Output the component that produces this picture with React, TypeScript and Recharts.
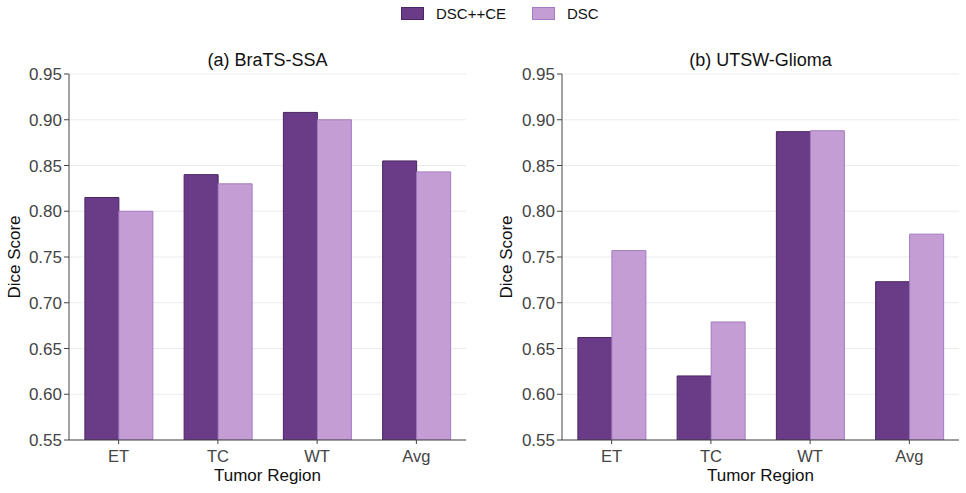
import React from "react";
import { BarChart, Bar, XAxis, YAxis, CartesianGrid } from "recharts";

// Tumor regions shown on the x axis
const regions = ["ET", "TC", "WT", "Avg"];

// (a) BraTS-SSA dice scores
const bratsCE = [0.815, 0.840, 0.908, 0.855];
const bratsDSC = [0.800, 0.830, 0.900, 0.843];

// (b) UTSW-Glioma dice scores
const utswCE = [0.662, 0.620, 0.887, 0.723];
const utswDSC = [0.757, 0.679, 0.888, 0.775];

const yTicks = [0.55, 0.6, 0.65, 0.7, 0.75, 0.8, 0.85, 0.9, 0.95];
const seriesNames = ["DSC++CE", "DSC"];

const FONT = '"Liberation Sans", Arial, Helvetica, sans-serif';
const DARK = "#6a3b87";
const DARK_EDGE = "#4a2563";
const LIGHT = "#c39dd3";
const LIGHT_EDGE = "#a47cc2";
const TICK_COLOR = "#444444";
const AXIS_COLOR = "#444444";

const buildRows = (ce: number[], dsc: number[]) =>
  regions.map((region, i) => ({ region, ce: ce[i], dsc: dsc[i] }));

type PanelProps = {
  title: string;
  ce: number[];
  dsc: number[];
  left: number;
  width: number;
  axisWidth: number;
  marginRight: number;
  yLabelX: number;
};

const Panel = ({ title, ce, dsc, left, width, axisWidth, marginRight, yLabelX }: PanelProps) => {
  const rows = buildRows(ce, dsc);
  const plotLeft = axisWidth;
  const plotRight = width - marginRight;
  return (
    <div style={{ position: "absolute", left, top: 0, width, height: 493 }}>
      <div
        style={{
          position: "absolute",
          left: plotLeft,
          width: plotRight - plotLeft,
          top: 50,
          textAlign: "center",
          fontSize: 18,
          lineHeight: "20px",
          color: "#111",
          fontFamily: FONT,
        }}
      >
        {title}
      </div>
      <BarChart
        width={width}
        height={493}
        data={rows}
        margin={{ top: 74, right: marginRight, bottom: 0, left: 0 }}
        barCategoryGap="16%"
        barGap={0}
      >
        <CartesianGrid vertical={false} stroke="#ebebeb" strokeWidth={1} />
        <XAxis
          dataKey="region"
          height={53}
          tickSize={4}
          tickMargin={6}
          stroke={AXIS_COLOR}
          tick={{ fill: TICK_COLOR, fontSize: 16.5, fontFamily: FONT }}
          label={{
            content: (props: any) => {
              const vb = props.viewBox || {};
              return (
                <text
                  x={vb.x + vb.width / 2}
                  y={481}
                  textAnchor="middle"
                  fontSize={17}
                  fontFamily={FONT}
                  fill="#111"
                >
                  Tumor Region
                </text>
              );
            },
          }}
        />
        <YAxis
          width={axisWidth}
          domain={[0.55, 0.95]}
          ticks={yTicks}
          allowDataOverflow
          interval={0}
          tickSize={5}
          tickMargin={2}
          stroke={AXIS_COLOR}
          tickFormatter={(v: number) => v.toFixed(2)}
          tick={{ fill: TICK_COLOR, fontSize: 17, fontFamily: FONT }}
          label={{
            content: () => (
              <text
                x={yLabelX}
                y={257}
                transform={`rotate(-90, ${yLabelX}, 257)`}
                textAnchor="middle"
                dominantBaseline="central"
                fontSize={17}
                fontFamily={FONT}
                fill="#111"
              >
                Dice Score
              </text>
            ),
          }}
        />
        <Bar
          dataKey="ce"
          name={seriesNames[0]}
          fill={DARK}
          stroke={DARK_EDGE}
          strokeWidth={1}
          isAnimationActive={false}
        />
        <Bar
          dataKey="dsc"
          name={seriesNames[1]}
          fill={LIGHT}
          stroke={LIGHT_EDGE}
          strokeWidth={1}
          isAnimationActive={false}
        />
      </BarChart>
    </div>
  );
};

const LegendItem = ({ color, edge, label, x }: { color: string; edge: string; label: string; x: number }) => (
  <div style={{ position: "absolute", left: x, top: 0, height: 26, display: "flex", alignItems: "center" }}>
    <span
      style={{
        display: "inline-block",
        width: 21,
        height: 11,
        background: color,
        border: `1px solid ${edge}`,
        marginRight: 12,
      }}
    />
    <span style={{ fontSize: 15, fontFamily: FONT, color: "#111" }}>{label}</span>
  </div>
);

export default function App() {
  return (
    <div
      style={{
        position: "absolute",
        left: 0,
        top: 0,
        width: 966,
        height: 493,
        background: "#ffffff",
        overflow: "hidden",
      }}
    >
      <LegendItem color={DARK} edge={DARK_EDGE} label={seriesNames[0]} x={401} />
      <LegendItem color={LIGHT} edge={LIGHT_EDGE} label={seriesNames[1]} x={532} />
      <Panel
        title="(a) BraTS-SSA"
        ce={bratsCE}
        dsc={bratsDSC}
        left={0}
        width={480}
        axisWidth={69}
        marginRight={14}
        yLabelX={14}
      />
      <Panel
        title="(b) UTSW-Glioma"
        ce={utswCE}
        dsc={utswDSC}
        left={480}
        width={486}
        axisWidth={82}
        marginRight={7}
        yLabelX={26}
      />
    </div>
  );
}
